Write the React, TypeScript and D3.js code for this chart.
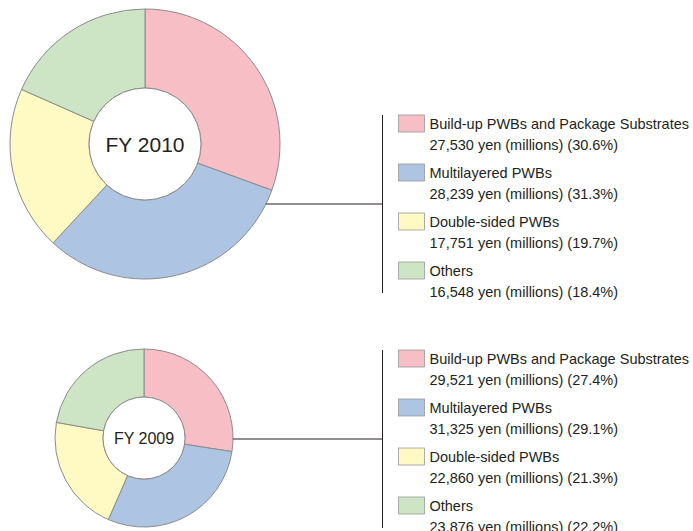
import * as d3 from "d3";

const categories = [
  "Build-up PWBs and Package Substrates",
  "Multilayered PWBs",
  "Double-sided PWBs",
  "Others",
];
const colors = ["#f7bec6", "#adc4e3", "#fff9c4", "#cde5c4"];

const values2010 = [27530, 28239, 17751, 16548];
const shares2010 = [30.6, 31.3, 19.7, 18.4];
const values2009 = [29521, 31325, 22860, 23876];
const shares2009 = [27.4, 29.1, 21.3, 22.2];

const fmt = d3.format(",");

type DonutProps = {
  label: string;
  values: number[];
  shares: number[];
  cx: number;
  cy: number;
  outer: number;
  inner: number;
  labelSize: number;
  legendX: number;
  legendTop: number;
};

const Donut = ({ label, values, shares, cx, cy, outer, inner, labelSize, legendX, legendTop }: DonutProps) => {
  const pie = d3.pie<number>().sort(null).value((d) => d);
  const arcs = pie(values);
  const arc = d3.arc<d3.PieArcDatum<number>>().innerRadius(inner).outerRadius(outer);

  const step = 49;
  const lineTop = legendTop;
  const lineBottom = legendTop + step * 3 + 31;
  const midY = (lineTop + lineBottom) / 2;
  // connector starts at the outer edge of the ring at the legend's mid height
  const dy = midY - cy;
  const edgeX = cx + Math.sqrt(Math.max(outer * outer - dy * dy, 0));

  return (
    <g>
      <g transform={`translate(${cx},${cy})`}>
        {arcs.map((a, i) => (
          <path key={i} d={arc(a) || ""} fill={colors[i]} stroke="#8c8c8c" strokeWidth={1} />
        ))}
        <circle r={inner} fill="#fff" stroke="#8c8c8c" strokeWidth={1} />
        <text
          textAnchor="middle"
          dy="0.36em"
          fontSize={labelSize}
          fill="#231f20"
        >
          {label}
        </text>
      </g>
      <line x1={edgeX} x2={legendX} y1={midY} y2={midY} stroke="#231f20" strokeWidth={1} />
      <line x1={legendX} x2={legendX} y1={lineTop} y2={lineBottom} stroke="#231f20" strokeWidth={1} />
      {categories.map((c, i) => {
        const y = legendTop + i * step;
        return (
          <g key={c} transform={`translate(${legendX + 16},${y})`}>
            <rect x={0} y={0} width={26} height={17} fill={colors[i]} stroke="#9a9a9a" strokeWidth={0.8} />
            <text x={31} y={13.5} fontSize={14.5} fill="#231f20">{c}</text>
            <text x={31} y={35} fontSize={14.5} fill="#231f20">
              {`${fmt(values[i])} yen (millions) (${shares[i].toFixed(1)}%)`}
            </text>
          </g>
        );
      })}
    </g>
  );
};

export default function App() {
  return (
    <div style={{ position: "absolute", left: 0, top: 0 }}>
      <svg
        width={693}
        height={531}
        style={{ display: "block", background: "#fff", fontFamily: "'Liberation Sans', Arial, sans-serif" }}
      >
        <Donut
          label="FY 2010"
          values={values2010}
          shares={shares2010}
          cx={145}
          cy={144}
          outer={135}
          inner={56}
          labelSize={21}
          legendX={382.5}
          legendTop={115}
        />
        <Donut
          label="FY 2009"
          values={values2009}
          shares={shares2009}
          cx={144}
          cy={438}
          outer={89}
          inner={41}
          labelSize={16}
          legendX={382.5}
          legendTop={350}
        />
      </svg>
    </div>
  );
}
